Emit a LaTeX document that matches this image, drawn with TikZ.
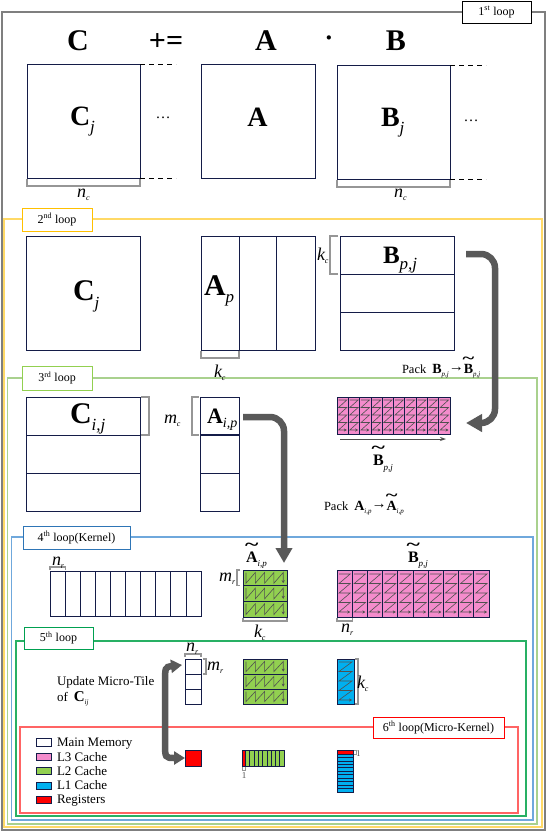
\documentclass[tikz,border=0pt]{standalone}
\usepackage{fontspec}
\setmainfont{Liberation Serif}
\usepackage{graphicx}
\usetikzlibrary{arrows.meta}
\definecolor{navy}{RGB}{20,28,72}
\definecolor{pinkc}{RGB}{244,140,204}
\definecolor{greenc}{RGB}{146,208,80}
\definecolor{bluec}{RGB}{0,176,240}
\definecolor{redc}{RGB}{255,0,0}
\definecolor{arrowg}{RGB}{89,89,89}
\definecolor{zzgray}{RGB}{80,80,80}
\definecolor{brkgray}{RGB}{150,150,150}
\definecolor{frameA}{RGB}{127,127,127}
\definecolor{frameB}{RGB}{255,217,102}
\definecolor{labB}{RGB}{255,192,0}
\definecolor{frameC}{RGB}{169,209,142}
\definecolor{labC}{RGB}{146,208,80}
\definecolor{frameD}{RGB}{111,168,220}
\definecolor{labD}{RGB}{46,117,182}
\definecolor{frameE}{RGB}{40,176,100}
\definecolor{labE}{RGB}{0,160,80}
\definecolor{frameF}{RGB}{255,100,100}
\newcommand\FSZ[1]{\fontsize{#1pt}{#1pt}\selectfont}
\newcommand\MatX[5]{{\FSZ{#1}\bfseries #2}\raisebox{-#4pt}{\FSZ{#3}\itshape #5}}
\newcommand\LabX[2]{{\FSZ{18}\itshape #1}\raisebox{-3pt}{\FSZ{8}\itshape #2}}
\newcommand\TilX[2]{\leavevmode{\FSZ{#1}\bfseries\setbox0\hbox{#2}\rlap{\hbox to\wd0{\hss\smash{\raisebox{0.7em}{\scalebox{1.6}[1.1]{\char"7E}}}\hss}}#2}}
\begin{document}
\begin{tikzpicture}[x=1pt,y=-1pt,
  mbox/.style={draw=navy, line width=0.9pt, inner sep=0pt, outer sep=0pt, anchor=north west},
  nline/.style={draw=navy, line width=0.8pt},
  brk/.style={draw=brkgray, line width=1.2pt},
  zz/.style={draw=zzgray, line width=0.6pt, -{Stealth[length=3pt,width=3.2pt]}},
  lbl/.style={inner sep=0pt, outer sep=0pt, anchor=base west},
  lab/.style={inner sep=0pt, fill=white, line width=1pt, font=\FSZ{12}},
  bigA/.style={draw=arrowg, line width=6.5pt, rounded corners=14pt},
]
\useasboundingbox (0,0) rectangle (546,833);

% ---------- loop frames ----------
\draw[frameA, line width=1.5pt] (2,12) rectangle (545,830);
\draw[frameB, line width=1.2pt] (4,219) rectangle (542,827);
\draw[frameC, line width=1.2pt] (7.5,378) rectangle (537,824);
\draw[frameD, line width=1.2pt] (11.5,537) rectangle (533,820);
\draw[frameE, line width=1.2pt] (16,641) rectangle (526,816);
\draw[frameF, line width=1.2pt] (20,727) rectangle (518,813);
\node[lab, draw=black, line width=0.8pt, minimum width=69pt, minimum height=22pt] (L1) at (496.5,12) {1\textsuperscript{st} loop};
\node[lab, draw=labB, minimum width=70pt, minimum height=23pt] (L2) at (57,219.5) {2\textsuperscript{nd} loop};
\node[lab, draw=labC, minimum width=70pt, minimum height=24pt] (L3) at (57,378) {3\textsuperscript{rd} loop};
\node[lab, draw=labD, minimum width=107pt, minimum height=23pt] (L4) at (76.5,537.5) {4\textsuperscript{th} loop(Kernel)};
\node[lab, draw=labE, minimum width=69pt, minimum height=22pt] (L5) at (58.5,638) {5\textsuperscript{th} loop};
\node[lab, draw=redc, minimum width=131pt, minimum height=21pt] (L6) at (438.5,727.5) {6\textsuperscript{th} loop(Micro-Kernel)};

% ---------- 1st loop ----------
\node[lbl, anchor=base] (tC) at (78,50) {\FSZ{30}\bfseries C};
\node[lbl, anchor=base] (tPE) at (166,50) {\FSZ{30}\bfseries +=};
\node[lbl, anchor=base] (tA) at (266,50) {\FSZ{30}\bfseries A};
\node[lbl, anchor=base] (tDot) at (329,46) {\FSZ{26}\bfseries ·};
\node[lbl, anchor=base] (tB) at (396,50) {\FSZ{30}\bfseries B};

\node[mbox, minimum width=113pt, minimum height=114pt] (C1) at (27,64) {};
\node[mbox, minimum width=114pt, minimum height=114pt] (A1) at (201,64) {};
\node[mbox, minimum width=113pt, minimum height=114pt] (B1) at (337,65) {};
\draw[dashed, line width=0.8pt, dash pattern=on 5pt off 4pt] (C1.north east) -- ++(36,0);
\draw[dashed, line width=0.8pt, dash pattern=on 5pt off 4pt] (C1.south east) -- ++(36,0);
\draw[dashed, line width=0.8pt, dash pattern=on 5pt off 4pt] (B1.north east) -- ++(36,0);
\draw[dashed, line width=0.8pt, dash pattern=on 5pt off 4pt] (B1.south east) -- ++(36,0);
\node[lbl] (lC1) at (70,125) {\MatX{28}{C}{17}{7}{j}};
\node[lbl, anchor=base] (lA1) at (257.5,126) {\FSZ{28}\bfseries A};
\node[lbl] (lB1) at (381,126) {\MatX{28}{B}{17}{7}{j}};
\node[lbl, anchor=base] (dots1) at (163,118) {\FSZ{15}\ldots};
\node[lbl, anchor=base] (dots2) at (471,121) {\FSZ{15}\ldots};
\draw[brk] ([yshift=-1pt]C1.south west) -- ++(0,7) -| ([yshift=-1pt]C1.south east);
\draw[brk] ([yshift=-1pt]B1.south west) -- ++(0,7) -| ([yshift=-1pt]B1.south east);
\node[lbl] (nc1) at (77,197) {\LabX{n}{c}};
\node[lbl] (nc2) at (394,197) {\LabX{n}{c}};

% ---------- 2nd loop ----------
\node[mbox, minimum width=114pt, minimum height=114pt] (C2) at (26,236) {};
\node[mbox, minimum width=114pt, minimum height=114pt] (A2) at (201,236) {};
\draw[nline] ([xshift=38pt]A2.north west) -- ([xshift=38pt]A2.south west);
\draw[nline] ([xshift=75pt]A2.north west) -- ([xshift=75pt]A2.south west);
\node[mbox, minimum width=114pt, minimum height=114pt] (B2) at (340,236) {};
\draw[nline] ([yshift=-38pt]B2.north west) -- ([yshift=-38pt]B2.north east);
\draw[nline] ([yshift=-76pt]B2.north west) -- ([yshift=-76pt]B2.north east);
\node[lbl] (lC2) at (73,300) {\MatX{30}{C}{17}{8}{j}};
\node[lbl] (lA2) at (204,295) {\MatX{30}{A}{17}{7}{p}};
\node[lbl] (lB2) at (383,263) {\MatX{25}{B}{17}{6}{p,j}};
\draw[brk] ([xshift=-2pt]B2.north west) -- ++(-8,0) -- ++(0,38) -- ++(8,0);
\node[lbl] (kc1) at (317,260) {\LabX{k}{c}};
\draw[brk] ([yshift=-1pt]A2.south west) -- ++(0,7) -- ++(38,0) -- ++(0,-7);
\node[lbl] (kc2) at (214,377) {\LabX{k}{c}};
\node[lbl] (packB) at (402,373) {\FSZ{12.5}Pack\hspace{6pt}{\FSZ{14}\bfseries B}\raisebox{-3pt}{\FSZ{7}\itshape p,j}\raisebox{2pt}{\FSZ{15}→}\TilX{14}{B}\raisebox{-3pt}{\FSZ{7}\itshape p,j}};

% ---------- 3rd loop ----------
\node[mbox, minimum width=114pt, minimum height=114pt] (C3) at (26,397) {};
\draw[nline] ([yshift=-38pt]C3.north west) -- ([yshift=-38pt]C3.north east);
\draw[nline] ([yshift=-76pt]C3.north west) -- ([yshift=-76pt]C3.north east);
\node[mbox, minimum width=39pt, minimum height=114pt] (A3) at (200,397) {};
\draw[nline, line width=1.2pt] ([yshift=-38pt]A3.north west) -- ([yshift=-38pt]A3.north east);
\draw[nline] ([yshift=-76pt]A3.north west) -- ([yshift=-76pt]A3.north east);
\node[lbl] (lC3) at (70,423) {\MatX{30}{C}{17}{7}{i,j}};
\node[lbl] (lA3) at (207,423) {\MatX{22}{A}{14}{4}{i,p}};
\draw[brk] ([xshift=1pt]C3.north east) -- ++(8,0) -- ++(0,38) -- ++(-8,0);
\draw[brk] ([xshift=-1pt]A3.north west) -- ++(-7,0) -- ++(0,38) -- ++(7,0);
\node[lbl] (mc) at (164,423) {\LabX{m}{c}};
% packed B (L3)
\node[mbox, fill=pinkc, minimum width=113pt, minimum height=37pt] (P1) at (337,397) {};
\foreach \i in {0,...,9}{
  \pgfmathsetmacro\xa{338.5+\i*11.3}
  \pgfmathsetmacro\xb{335.5+(\i+1)*11.3}
  \draw[zz] (\xa,400) -- (\xb,400) -- (\xa,407.5) -- (\xb,407.5) -- (\xa,415) -- (\xb,415) -- (\xa,422.5) -- (\xb,422.5) -- (\xa,430) -- (\xb,430);
}
\foreach \i in {1,...,9}{\draw[nline] ([xshift=\i*11.3pt]P1.north west) -- ([xshift=\i*11.3pt]P1.south west);}
\draw[draw=navy, line width=0.9pt] (P1.north west) rectangle (P1.south east);
\coordinate (ua) at ([xshift=3pt,yshift=-5pt]P1.south west);
\coordinate (ub) at ([xshift=-4pt,yshift=-5pt]P1.south east);
\draw[draw=zzgray, line width=0.8pt, -{Stealth[length=6pt,width=4pt]}] (ua) -- (ub);
\node[lbl] (lBt3) at (373,465) {\TilX{16}{B}\raisebox{-5pt}{\FSZ{9}\itshape p,j}};
\node[lbl] (packA) at (324,510) {\FSZ{12.5}Pack\hspace{6pt}{\FSZ{14}\bfseries A}\raisebox{-3pt}{\FSZ{7}\itshape i,p}\raisebox{2pt}{\FSZ{15}→}\TilX{14}{A}\raisebox{-3pt}{\FSZ{7}\itshape i,p}};

% ---------- 4th loop ----------
\node[mbox, minimum width=151pt, minimum height=45pt] (R4) at (50,571) {};
\foreach \i in {1,...,9}{\draw[nline] ([xshift=\i*15.1pt]R4.north west) -- ([xshift=\i*15.1pt]R4.south west);}
\draw[brk] ([yshift=1pt]R4.north west) -- ++(0,-3) -- ++(15.1,0) -- ++(0,3);
\node[lbl] (nr1) at (52,565) {\LabX{n}{r}};
% packed A (L2)
\node[mbox, fill=greenc, minimum width=44pt, minimum height=47pt] (G4) at (243,570) {};
\foreach \t in {570,585.67,601.33}{
  \pgfmathsetmacro\ya{\t+2.5}
  \pgfmathsetmacro\yb{\t+13.2}
  \draw[zz] (246,\ya) -- (246,\yb) -- (255.3,\ya) -- (255.3,\yb) -- (264.6,\ya) -- (264.6,\yb) -- (273.9,\ya) -- (273.9,\yb) -- (283.2,\ya) -- (283.2,\yb);
}
\draw[nline] ([yshift=-15.67pt]G4.north west) -- ([yshift=-15.67pt]G4.north east);
\draw[nline] ([yshift=-31.33pt]G4.north west) -- ([yshift=-31.33pt]G4.north east);
\draw[draw=navy, line width=0.9pt] (G4.north west) rectangle (G4.south east);
\node[lbl] (lAt4) at (246,562) {\TilX{16}{A}\raisebox{-4pt}{\FSZ{9}\itshape i,p}};
\draw[brk] ([xshift=-3pt]G4.north west) -- ++(-3,0) -- ++(0,15.7) -- ++(3,0);
\node[lbl] (mr1) at (219,581) {\LabX{m}{r}};
\draw[brk] ([yshift=-1pt]G4.south west) -- ++(0,3) -- ++(44,0) -- ++(0,-3);
\node[lbl] (kc3) at (254,637) {\LabX{k}{c}};
% packed B (L3) micro-panels
\node[mbox, fill=pinkc, minimum width=152pt, minimum height=47pt] (P2) at (337,570) {};
\foreach \i in {0,...,9}{
  \pgfmathsetmacro\xa{339+\i*15.2}
  \pgfmathsetmacro\xb{335+(\i+1)*15.2}
  \draw[zz] (\xa,574) -- (\xb,574) -- (\xa,583.5) -- (\xb,583.5) -- (\xa,593) -- (\xb,593) -- (\xa,602.5) -- (\xb,602.5) -- (\xa,612) -- (\xb,612);
}
\foreach \i in {1,...,9}{\draw[nline] ([xshift=\i*15.2pt]P2.north west) -- ([xshift=\i*15.2pt]P2.south west);}
\draw[draw=navy, line width=0.9pt] (P2.north west) rectangle (P2.south east);
\node[lbl] (lBt4) at (408,562) {\TilX{16}{B}\raisebox{-4pt}{\FSZ{9}\itshape p,j}};
\draw[brk] ([yshift=-1pt]P2.south west) -- ++(0,3) -- ++(15.2,0) -- ++(0,-3);
\node[lbl] (nr2) at (341,632) {\LabX{n}{r}};

% ---------- 5th loop ----------
\node[mbox, minimum width=16pt, minimum height=45pt] (S5) at (185,659) {};
\draw[nline] ([yshift=-15pt]S5.north west) -- ([yshift=-15pt]S5.north east);
\draw[nline] ([yshift=-30pt]S5.north west) -- ([yshift=-30pt]S5.north east);
\draw[brk] ([yshift=2pt]S5.north west) -- ++(0,-3) -- ++(16,0) -- ++(0,3);
\node[lbl] (nr3) at (186,651) {\LabX{n}{r}};
\draw[brk] ([xshift=2pt]S5.north east) -- ++(3,0) -- ++(0,15) -- ++(-3,0);
\node[lbl] (mr2) at (207,670) {\LabX{m}{r}};
\node[lbl] (upd1) at (57,685) {\FSZ{13}Update Micro-Tile};
\node[lbl] (upd2) at (57,701) {\FSZ{13}of\hspace{6pt}{\FSZ{15}\bfseries C}\raisebox{-3pt}{\FSZ{7}\itshape ij}};
\node[mbox, fill=greenc, minimum width=44pt, minimum height=45pt] (G5) at (243,659) {};
\foreach \t in {659,674,689}{
  \pgfmathsetmacro\ya{\t+2.5}
  \pgfmathsetmacro\yb{\t+12.6}
  \draw[zz] (246,\ya) -- (246,\yb) -- (255.3,\ya) -- (255.3,\yb) -- (264.6,\ya) -- (264.6,\yb) -- (273.9,\ya) -- (273.9,\yb) -- (283.2,\ya) -- (283.2,\yb);
}
\draw[nline] ([yshift=-15pt]G5.north west) -- ([yshift=-15pt]G5.north east);
\draw[nline] ([yshift=-30pt]G5.north west) -- ([yshift=-30pt]G5.north east);
\draw[draw=navy, line width=0.9pt] (G5.north west) rectangle (G5.south east);
\node[mbox, fill=bluec, minimum width=17pt, minimum height=45pt] (B5) at (337,659) {};
\draw[zz] (339,662) -- (352,662) -- (339,671.5) -- (352,671.5) -- (339,681) -- (352,681) -- (339,690.5) -- (352,690.5) -- (339,700) -- (352,700);
\draw[draw=navy, line width=0.9pt] (B5.north west) rectangle (B5.south east);
\draw[brk] ([xshift=1pt]B5.north east) -- ++(3,0) -- ++(0,45) -- ++(-3,0);
\node[lbl] (kc4) at (357,688) {\LabX{k}{c}};

% ---------- 6th loop ----------
\node[mbox, fill=redc, minimum width=16pt, minimum height=16pt] (Rg) at (185,750) {};
\node[mbox, fill=greenc, minimum width=42pt, minimum height=16pt] (G6) at (242,750) {};
\fill[redc] (G6.north west) rectangle ([xshift=3.5pt]G6.south west);
\foreach \i in {0,...,8}{\draw[nline] ([xshift=3.5pt+\i*4.28pt]G6.north west) -- ([xshift=3.5pt+\i*4.28pt]G6.south west);}
\draw[draw=navy, line width=0.9pt] (G6.north west) rectangle (G6.south east);
\draw[brk, line width=0.7pt] ([yshift=-1pt]G6.south west) -- ++(0,3) -- ++(3.5,0) -- ++(0,-3);
\node[lbl, anchor=base] (one1) at (244,778) {\FSZ{9}\color{zzgray}1};
\node[mbox, fill=bluec, minimum width=16pt, minimum height=42pt] (B6) at (337,750) {};
\fill[redc] (B6.north west) rectangle ([yshift=-4pt]B6.north east);
\foreach \i in {0,...,10}{\draw[nline] ([yshift=-4pt-\i*3.45pt]B6.north west) -- ([yshift=-4pt-\i*3.45pt]B6.north east);}
\draw[draw=navy, line width=0.9pt] (B6.north west) rectangle (B6.south east);
\draw[brk, line width=0.7pt] ([xshift=1pt]B6.north east) -- ++(2,0) -- ++(0,4) -- ++(-2,0);
\node[lbl] (one2) at (356,756) {\FSZ{9}\color{zzgray}1};
% legend
\node[mbox, fill=white, minimum width=15pt, minimum height=8pt] (lg1) at (36,738) {};
\node[mbox, fill=pinkc, minimum width=15pt, minimum height=7pt] (lg2) at (36,753) {};
\node[mbox, fill=greenc, minimum width=15pt, minimum height=7pt] (lg3) at (36,767) {};
\node[mbox, fill=bluec, minimum width=15pt, minimum height=7pt] (lg4) at (36,782) {};
\node[mbox, fill=redc, minimum width=15pt, minimum height=7pt] (lg5) at (36,796) {};
\node[lbl] (lt1) at (57,746) {\FSZ{13}Main Memory};
\node[lbl] (lt2) at (57,761) {\FSZ{13}L3 Cache};
\node[lbl] (lt3) at (57,775) {\FSZ{13}L2 Cache};
\node[lbl] (lt4) at (57,789) {\FSZ{13}L1 Cache};
\node[lbl] (lt5) at (57,803) {\FSZ{13}Registers};

% ---------- thick arrows ----------
\coordinate (a1s) at ([xshift=12pt,yshift=-18pt]B2.north east);
\coordinate (a1e) at (466,423);
\draw[bigA, -{Triangle[width=17pt,length=16pt]}] (a1s) -- (495,254) -- (495,423) -- (a1e);
\coordinate (a2s) at ([xshift=4pt,yshift=-20pt]A3.north east);
\coordinate (a2e) at (284,563);
\draw[bigA, -{Triangle[width=16pt,length=15pt]}] (a2s) -- (284,417) -- (a2e);
\coordinate (a3s) at (182,665);
\coordinate (a3e) at ([yshift=-8pt]Rg.north west);
\draw[draw=arrowg, line width=6.5pt, {Triangle[width=13pt,length=11pt]}-{Triangle[width=13pt,length=11pt]}] (a3s) .. controls (165,667) .. (165,685) -- (165,742) .. controls (165,758) .. (a3e);
\end{tikzpicture}
\end{document}
